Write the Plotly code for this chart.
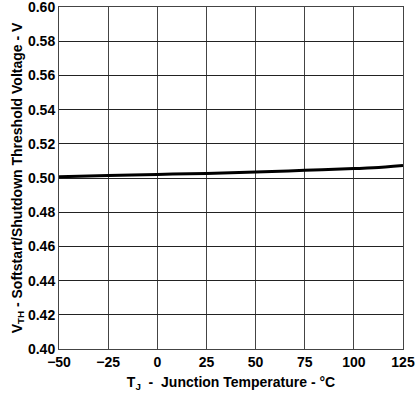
import plotly.graph_objects as go

temps = [-50, -25, 0, 25, 50, 75, 100, 110, 125]
vth = [0.5008, 0.5015, 0.5021, 0.5027, 0.5035, 0.5045, 0.5055, 0.5060, 0.5073]
x_ticks = [-50, -25, 0, 25, 50, 75, 100, 125]
y_ticks = [0.40, 0.42, 0.44, 0.46, 0.48, 0.50, 0.52, 0.54, 0.56, 0.58, 0.60]

fig = go.Figure()
fig.add_trace(go.Scatter(x=temps, y=vth, mode="lines",
                         line=dict(color="black", width=3, shape="spline"),
                         showlegend=False, cliponaxis=False))

fam = "Liberation Sans, Arial"
tickfont = dict(family=fam, size=14, color="black", weight="bold")
fig.update_layout(
    width=416, height=396,
    margin=dict(l=59, r=13, t=7, b=47),
    paper_bgcolor="white", plot_bgcolor="white",
    font=dict(family=fam, size=14, color="black"),
    xaxis=dict(range=[-50, 125], tickvals=x_ticks,
               ticktext=[str(t).replace("-", "−") for t in x_ticks],
               showgrid=True, gridcolor="#444", gridwidth=1,
               showline=True, linecolor="#444", mirror=True, zeroline=False,
               ticks="", tickfont=tickfont, automargin=False, ticklabeloverflow="allow",
               title=dict(text="<b>T<sub>J</sub>  -  Junction Temperature - °C</b>", standoff=8,
                          font=dict(family=fam, size=14, color="black"))),
    yaxis=dict(range=[0.40, 0.60], tickvals=y_ticks, ticktext=[f"{v:.2f}" for v in y_ticks],
               showgrid=True, gridcolor="#222", gridwidth=1,
               showline=True, linecolor="#444", mirror=True, zeroline=False,
               ticks="", tickfont=tickfont, automargin=False, ticklabeloverflow="allow",
               title=dict(text="<b>V<sub>TH</sub> - Softstart/Shutdown Threshold Voltage - V</b>", standoff=2,
                          font=dict(family=fam, size=14, color="black"))),
)
fig.write_html("out.html", config={"displayModeBar": False},
               post_script="document.body.style.margin='0';document.body.style.overflow='hidden';")
